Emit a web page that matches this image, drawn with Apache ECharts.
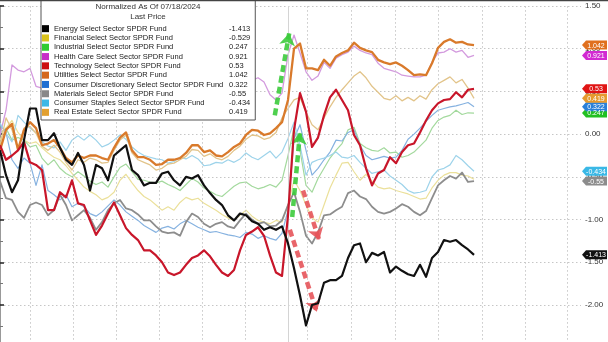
<!DOCTYPE html>
<html>
<head>
<meta charset="utf-8">
<script src="https://cdn.jsdelivr.net/npm/echarts@6/dist/echarts.min.js"></script>
<style>
  html, body { margin: 0; padding: 0; background: #fff; }
  #chart { width: 608px; height: 342px; }
</style>
</head>
<body>
<div id="chart"></div>
<script>
// Sector ETFs, normalized performance (last price as of 07/18/2024)
const names = [
  'Energy Select Sector SPDR Fund',
  'Financial Select Sector SPDR Fund',
  'Industrial Select Sector SPDR Fund',
  'Health Care Select Sector SPDR Fund',
  'Technology Select Sector SPDR Fund',
  'Utilities Select Sector SPDR Fund',
  'Consumer Discretionary Select Sector SPDR Fund',
  'Materials Select Sector SPDR Fund',
  'Consumer Staples Select Sector SPDR Fund',
  'Real Estate Select Sector SPDR Fund'
];
const lastLabels = ['-1.413', '-0.529', '0.247', '0.921', '0.53', '1.042', '0.322', '-0.55', '-0.434', '0.419'];

const energy = [
  -0.19, -0.48, -0.68, -0.54, -0.07, 0.30, 0.30, -0.07, -0.07, 0.01,
  -0.16, -0.30, -0.36, -0.22, -0.36, -0.66, -0.36, -0.40, -0.54, -0.25,
  -0.19, -0.13, -0.42, -0.48, -0.60, -0.57, -0.57, -0.46, -0.44, -0.54,
  -0.60, -0.50, -0.52, -0.48, -0.60, -0.69, -0.77, -0.83, -0.95, -1.01,
  -0.93, -0.95, -1.02, -1.05, -1.12, -1.09, -1.12, -1.08, -1.28, -1.57,
  -1.89, -2.24, -2.00, -1.98, -1.74, -1.71, -1.71, -1.66, -1.45, -1.30,
  -1.28, -1.50, -1.39, -1.42, -1.38, -1.62, -1.55, -1.60, -1.64, -1.66,
  -1.53, -1.67, -1.45, -1.38, -1.24, -1.26, -1.24, -1.30, -1.35, -1.413
];
const financial = [
  -0.07, 0.07, 0.16, 0.02, -0.07, -0.11, -0.09, -0.16, -0.22, -0.27,
  -0.30, -0.37, -0.46, -0.54, -0.62, -0.67, -0.71, -0.77, -0.74, -0.68,
  -0.54, -0.47, -0.57, -0.66, -0.73, -0.77, -0.83, -0.89, -0.85, -0.89,
  -0.80, -0.74, -0.77, -0.75, -0.81, -0.85, -0.89, -0.94, -0.98, -1.01,
  -0.95, -0.89, -0.96, -1.01, -1.03, -1.05, -1.01, -1.03, -0.83, -0.54,
  -0.66, -0.83, -0.98, -1.03, -0.83, -0.63, -0.48, -0.34, -0.33, -0.44,
  -0.54, -0.47, -0.55, -0.62, -0.64, -0.63, -0.66, -0.68, -0.70, -0.73,
  -0.76, -0.75, -0.63, -0.54, -0.48, -0.45, -0.45, -0.48, -0.49, -0.529
];
const industrial = [
  0.01, 0.07, -0.07, -0.04, -0.07, -0.15, -0.13, -0.28, -0.36, -0.30,
  -0.40, -0.46, -0.50, -0.44, -0.49, -0.55, -0.59, -0.56, -0.62, -0.50,
  -0.39, -0.35, -0.44, -0.53, -0.54, -0.56, -0.57, -0.55, -0.59, -0.62,
  -0.66, -0.59, -0.52, -0.56, -0.63, -0.67, -0.71, -0.73, -0.67, -0.61,
  -0.57, -0.56, -0.61, -0.64, -0.62, -0.59, -0.62, -0.54, -0.25, 0.07,
  -0.19, -0.60, -0.68, -0.52, -0.40, -0.28, -0.19, -0.11, 0.05, 0.08,
  -0.11, -0.16, -0.19, -0.20, -0.16, -0.22, -0.21, -0.27, -0.25, -0.21,
  -0.14, -0.07, 0.07, 0.16, 0.20, 0.22, 0.28, 0.23, 0.25, 0.247
];
const healthCare = [
  -0.01, 0.28, 0.81, 0.75, 0.73, 0.77, 0.56, 0.54, 0.55, 0.57,
  0.52, 0.48, 0.50, 0.47, 0.51, 0.49, 0.45, 0.48, 0.50, 0.54,
  0.57, 0.59, 0.52, 0.49, 0.47, 0.44, 0.42, 0.45, 0.43, 0.46,
  0.48, 0.50, 0.53, 0.51, 0.48, 0.50, 0.47, 0.49, 0.52, 0.55,
  0.58, 0.60, 0.63, 0.66, 0.61, 0.46, 0.40, 0.48, 0.93, 1.16,
  0.95, 0.73, 0.63, 0.68, 0.84, 0.77, 0.89, 0.93, 0.96, 1.03,
  0.98, 0.95, 0.93, 0.83, 0.77, 0.75, 0.73, 0.69, 0.68, 0.67,
  0.67, 0.69, 0.84, 0.95, 0.96, 1.00, 0.96, 0.98, 0.90, 0.921
];
const technology = [
  -0.13, -0.30, -0.25, -0.19, -0.09, -0.33, -0.36, -0.42, -0.89, -0.89,
  -0.68, -0.74, -0.54, -0.81, -0.83, -1.01, -1.18, -1.07, -0.93, -0.80,
  -0.95, -1.10, -1.18, -1.24, -1.36, -1.36, -1.42, -1.50, -1.62, -1.65,
  -1.62, -1.53, -1.45, -1.42, -1.36, -1.43, -1.53, -1.62, -1.66, -1.59,
  -1.36, -1.18, -1.14, -1.09, -1.19, -1.42, -1.62, -1.66, -0.95, 0.05,
  0.48, 0.26, -0.15, -0.04, 0.22, 0.43, 0.52, 0.40, 0.28, -0.01,
  -0.13, -0.40, -0.60, -0.46, -0.42, -0.27, -0.34, -0.21, -0.13, -0.11,
  0.02, 0.16, 0.28, 0.36, 0.40, 0.41, 0.49, 0.43, 0.52, 0.53
];
const utilities = [
  -0.19, 0.05, 0.12, -0.18, 0.05, 0.14, 0.07, -0.13, -0.11, -0.07,
  -0.16, -0.28, -0.33, -0.25, -0.28, -0.25, -0.25, -0.28, -0.30, -0.16,
  -0.04, 0.02, -0.19, -0.27, -0.27, -0.30, -0.36, -0.35, -0.30, -0.30,
  -0.28, -0.22, -0.13, -0.13, -0.21, -0.19, -0.25, -0.26, -0.21, -0.15,
  -0.11, -0.01, 0.05, 0.04, -0.01, 0.01, 0.07, 0.14, 0.40, 1.00,
  1.06, 0.77, 0.77, 0.75, 0.87, 0.80, 0.91, 0.95, 0.98, 1.07,
  1.01, 0.98, 0.96, 0.87, 0.84, 0.82, 0.84, 0.80, 0.75, 0.69,
  0.70, 0.69, 0.83, 1.01, 1.08, 1.11, 1.07, 1.08, 1.05, 1.042
];
const consumerDisc = [
  0.11, 0.02, -0.30, -0.40, -0.28, -0.34, -0.60, -0.36, -0.66, -0.71,
  -0.77, -0.71, -0.85, -0.81, -0.85, -0.93, -0.96, -0.91, -0.84, -0.77,
  -0.83, -0.91, -0.96, -1.01, -1.07, -1.11, -1.15, -1.10, -1.08, -1.11,
  -1.05, -1.01, -1.05, -1.09, -1.12, -1.15, -1.14, -1.16, -1.18, -1.19,
  -1.21, -1.15, -1.17, -1.22, -1.19, -1.22, -1.24, -1.16, -0.89, -0.05,
  0.11, -0.19, -0.48, -0.40, -0.30, -0.21, -0.07, -0.08, 0.02, 0.05,
  -0.13, -0.25, -0.30, -0.28, -0.26, -0.28, -0.27, -0.19, -0.06, 0.00,
  0.07, 0.15, 0.22, 0.28, 0.30, 0.32, 0.33, 0.35, 0.37, 0.322
];
const materials = [
  -0.55, -0.75, -0.77, -0.91, -0.98, -0.83, -0.80, -0.83, -0.95, -0.89,
  -0.71, -0.83, -1.01, -0.95, -0.89, -0.98, -1.12, -1.03, -0.89, -0.81,
  -0.77, -0.87, -0.89, -0.94, -1.01, -1.01, -1.08, -1.14, -1.16, -1.15,
  -1.19, -1.03, -0.93, -0.97, -1.05, -1.09, -1.05, -1.03, -1.08, -1.10,
  -1.01, -0.93, -1.00, -1.05, -1.03, -1.08, -1.07, -1.01, -0.83, -0.68,
  -0.91, -1.19, -1.28, -1.15, -0.95, -0.94, -0.89, -0.85, -0.69, -0.66,
  -0.73, -0.76, -0.85, -0.91, -0.93, -0.91, -0.87, -0.82, -0.85, -0.91,
  -0.95, -0.90, -0.75, -0.60, -0.54, -0.49, -0.52, -0.45, -0.56, -0.55
];
const consumerStaples = [
  0.13, 0.01, -0.09, 0.22, 0.14, 0.07, 0.02, -0.09, -0.14, -0.16,
  -0.09, -0.19, -0.07, -0.02, -0.07, -0.01, -0.07, -0.15, -0.12, -0.07,
  -0.01, -0.06, -0.15, -0.21, -0.25, -0.27, -0.29, -0.30, -0.34, -0.32,
  -0.27, -0.29, -0.25, -0.29, -0.37, -0.36, -0.33, -0.34, -0.30, -0.33,
  -0.29, -0.22, -0.27, -0.30, -0.25, -0.20, -0.28, -0.21, -0.05, 0.14,
  -0.13, -0.48, -0.33, -0.30, -0.28, -0.25, -0.21, -0.27, -0.28, -0.25,
  -0.33, -0.40, -0.46, -0.44, -0.42, -0.49, -0.54, -0.59, -0.66, -0.69,
  -0.68, -0.66, -0.50, -0.42, -0.40, -0.36, -0.25, -0.30, -0.37, -0.434
];
const realEstate = [
  -0.13, 0.19, 0.05, -0.19, 0.07, 0.09, 0.01, -0.14, -0.19, -0.13,
  -0.21, -0.33, -0.42, -0.30, -0.33, -0.28, -0.30, -0.34, -0.33, -0.19,
  -0.07, -0.01, -0.22, -0.30, -0.33, -0.36, -0.42, -0.40, -0.35, -0.34,
  -0.30, -0.26, -0.18, -0.19, -0.26, -0.23, -0.28, -0.30, -0.26, -0.19,
  -0.14, -0.06, -0.01, -0.02, -0.06, -0.04, 0.02, 0.19, 0.30, 0.40,
  0.43, 0.26, 0.11, 0.05, 0.19, 0.32, 0.43, 0.52, 0.60, 0.68,
  0.73, 0.66, 0.56, 0.49, 0.42, 0.40, 0.45, 0.39, 0.43, 0.39,
  0.45, 0.41, 0.52, 0.59, 0.63, 0.67, 0.60, 0.64, 0.54, 0.419
];

const seriesValues = [energy, financial, industrial, healthCare, technology,
  utilities, consumerDisc, materials, consumerStaples, realEstate];

// Y-axis range and the x extent (in sample steps) of the plot
const Y_MIN = -2.5, Y_MAX = 1.5, Y_STEP = 0.5;
const X_MAX = 96.83;

// vertical dotted guides (sample positions) and the solid event line
const guideX = [5, 12.17, 19.33, 26.5, 33.67, 40.83, 51.17, 58.5, 65.83, 73, 80.33, 87.5, 94.5];
const eventX = 48;

// dashed annotation arrows: [from, to] in (sample, value)
const upArrows = [[[45.8, 0.22], [48.2, 1.18]], [[48.7, -0.97], [50.0, 0.02]]];
const downArrows = [[[50.5, -0.66], [53.2, -1.24]], [[48.3, -1.12], [52.8, -2.08]]];

// ---------- styling ----------
const FONT = 'Liberation Sans, Arial, sans-serif';
const legendColors = ['#000000', '#d9c21c', '#2fcc2f', '#c82ec8', '#cc0f0f',
  '#d4671c', '#1f6fd2', '#888888', '#3cb8e6', '#e2a030'];
const lineColors = ['#111111', '#ebe09a', '#a3d99d', '#d39ade', '#c8162a',
  '#d97a2b', '#86b2e0', '#8d8d8d', '#9dd3ea', '#e2c48a'];
const lineWidths = [2.2, 1.2, 1.2, 1.3, 2.2, 2.3, 1.2, 1.8, 1.2, 1.3];
const lineZ = [7, 3, 3, 3, 6, 5, 3, 4, 3, 3];
const tagColors = ['#111111', null, '#22c022', '#d22ad2', '#e01414',
  '#e0701e', '#2a80d8', '#8c8c8c', '#3ab8e6', '#e69a2e'];
const TAG = 'path://M0,5L4,0L25,0L25,10L4,10Z';

const lineSeries = seriesValues.map((vals, i) => {
  const s = {
    name: names[i],
    type: 'line',
    data: vals.map((v, j) => [j, v]),
    symbol: 'none',
    z: lineZ[i],
    lineStyle: { color: lineColors[i], width: lineWidths[i], join: 'round' },
    itemStyle: { color: legendColors[i] },
    emphasis: { disabled: true },
    silent: true
  };
  if (tagColors[i]) {
    s.markPoint = {
      silent: true,
      symbol: TAG,
      symbolSize: [25, 9],
      symbolOffset: [13.5, 0],
      itemStyle: { color: tagColors[i] },
      label: {
        show: true, position: 'inside', formatter: lastLabels[i],
        color: '#ffffff', fontSize: 7, fontFamily: FONT, offset: [1.5, 0.5]
      },
      data: [{ coord: [X_MAX, vals[vals.length - 1]] }]
    };
  }
  return s;
});

const guideSeries = {
  type: 'line', data: [], z: 1, silent: true,
  markLine: {
    silent: true, symbol: 'none', label: { show: false },
    lineStyle: { color: '#c6c6c6', type: [1.5, 2.5], width: 1 },
    emphasis: { disabled: true },
    data: guideX.map(x => ({ xAxis: x })).concat([
      { xAxis: eventX, lineStyle: { color: '#d4d4d4', type: 'solid', width: 1 } }
    ])
  }
};

const arrowPair = (a, color) => [
  { coord: a[0], lineStyle: { color: color } },
  { coord: a[1] }
];
const arrowSeries = {
  type: 'line', data: [], z: 10, silent: true,
  markLine: {
    silent: true, symbol: ['none', 'arrow'], symbolSize: [12, 12],
    label: { show: false }, emphasis: { disabled: true },
    lineStyle: { width: 4.5, type: [7, 4], cap: 'butt', opacity: 0.9 },
    data: upArrows.map(a => arrowPair(a, '#3ccb3c'))
      .concat(downArrows.map(a => arrowPair(a, '#e6545a')))
  }
};

const chart = echarts.init(document.getElementById('chart'), null, { renderer: 'canvas' });
chart.setOption({
  animation: false,
  backgroundColor: '#ffffff',
  grid: { left: 0, right: 27, top: 6, height: 341.7, containLabel: false, outerBoundsMode: 'none' },
  xAxis: {
    type: 'value', min: 0, max: X_MAX, show: false,
    splitLine: { show: false }
  },
  yAxis: {
    type: 'value', position: 'right', min: Y_MIN, max: Y_MAX, interval: Y_STEP,
    axisLine: { show: true, lineStyle: { color: '#999999', width: 1 } },
    axisTick: { show: true, length: 4, lineStyle: { color: '#222222', width: 1.5 } },
    minorTick: { show: true, splitNumber: 2, length: 3, lineStyle: { color: '#777777' } },
    axisLabel: {
      color: '#333333', fontSize: 8, fontFamily: FONT, margin: 4,
      formatter: v => v.toFixed(2)
    },
    splitLine: { show: true, lineStyle: { color: '#c6c6c6', type: [1.5, 2.5], width: 1 } }
  },
  legend: {
    orient: 'vertical', left: 41, top: -1,
    padding: [25, 5, 3, 1],
    itemWidth: 7, itemHeight: 7, itemGap: 0, icon: 'rect',
    backgroundColor: '#ffffff', borderColor: '#555555', borderWidth: 1,
    selectedMode: false, z: 8,
    data: names.map((n, i) => ({ name: n, itemStyle: { color: legendColors[i] } })),
    formatter: name => '{n|' + name + '}{v|' + lastLabels[names.indexOf(name)] + '}',
    textStyle: {
      fontFamily: FONT, fontSize: 7.5, color: '#1a1a1a', lineHeight: 9.3,
      rich: {
        n: { width: 175, fontSize: 7.5, lineHeight: 9.3, fontFamily: FONT, color: '#1a1a1a' },
        v: { fontSize: 7.5, lineHeight: 9.3, fontFamily: FONT, color: '#1a1a1a' }
      }
    }
  },
  graphic: [
    { type: 'line', z: 100, shape: { x1: 0, y1: 0.5, x2: 608, y2: 0.5 },
      style: { stroke: '#444444', lineWidth: 1.5 } },
    { type: 'text', z: 100, x: 148, y: 7,
      style: { text: 'Normalized As Of 07/18/2024', fill: '#333333', font: '8px ' + FONT, textAlign: 'center', textVerticalAlign: 'middle' } },
    { type: 'text', z: 100, x: 148, y: 16.5,
      style: { text: 'Last Price', fill: '#333333', font: '8px ' + FONT, textAlign: 'center', textVerticalAlign: 'middle' } }
  ],
  series: [guideSeries].concat(lineSeries).concat([arrowSeries])
});
</script>
</body>
</html>
